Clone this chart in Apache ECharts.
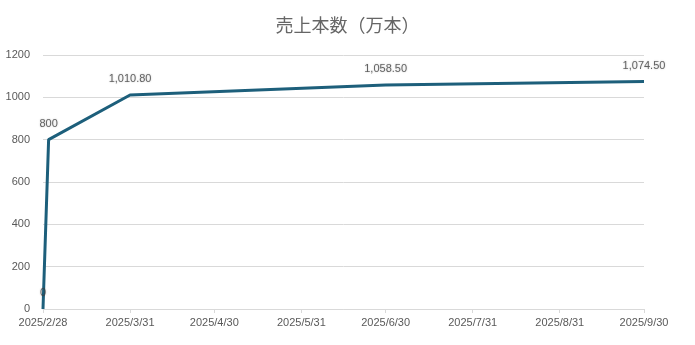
<!DOCTYPE html>
<html><head><meta charset="utf-8">
<script src="https://cdn.jsdelivr.net/npm/echarts@6/dist/echarts.min.js"></script>
<style>html,body{margin:0;padding:0;background:#fff}#c{width:695px;height:345px}</style>
</head><body><div id="c"></div>
<script>
const titleText = '売上本数（万本）';
const dates = ['2025-02-28', '2025-03-02', '2025-03-31', '2025-06-30', '2025-09-30'];
const values = [0, 800, 1010.8, 1058.5, 1074.5];
const xTickDates = ['2025-02-28','2025-03-31','2025-04-30','2025-05-31','2025-06-30','2025-07-31','2025-08-31','2025-09-30'];
const yTicks = [0, 200, 400, 600, 800, 1000, 1200];

const DAY = 86400000;
const ts = d => { const [y,m,dd] = d.split('-').map(Number); return Date.UTC(y, m-1, dd) / DAY; };
const xTicks = xTickDates.map(ts);
const fmt = v => v === 0 ? '0' : (Number.isInteger(v) && v < 1000 ? String(v) : v.toLocaleString('en-US',{minimumFractionDigits:2,maximumFractionDigits:2}));
const fmtDate = v => { const d = new Date(Math.round(v) * DAY); return d.getUTCFullYear()+'/'+(d.getUTCMonth()+1)+'/'+d.getUTCDate(); };
const pts = dates.map((d,i)=>[ts(d),values[i]]);

const chart = echarts.init(document.getElementById('c'), null, {renderer:'canvas'});
chart.setOption({
  animation:false,
  title:{text:titleText,left:'center',top:11,textStyle:{fontSize:18,fontWeight:'normal',color:'#666666',fontFamily:'Noto Sans CJK JP'}},
  grid:{left:43,right:51,top:55,bottom:36,containLabel:false},
  xAxis:{type:'value',min:xTicks[0],max:xTicks[xTicks.length-1],
    axisLine:{show:true,lineStyle:{color:'#d9d9d9'}},
    axisTick:{show:true,length:4,lineStyle:{color:'#d9d9d9'},customValues:xTicks},
    splitLine:{show:false},
    axisLabel:{customValues:xTicks,color:'#595959',fontSize:11,fontFamily:'Liberation Sans',margin:8,
      showMinLabel:true,showMaxLabel:true,formatter:fmtDate}},
  yAxis:{type:'value',min:yTicks[0],max:yTicks[yTicks.length-1],interval:200,
    axisLine:{show:false},axisTick:{show:false},
    splitLine:{lineStyle:{color:'#d9d9d9'}},
    axisLabel:{color:'#595959',fontSize:11,fontFamily:'Liberation Sans',margin:13,formatter:v=>String(v)}},
  series:[
    {type:'line',data:pts,symbol:'none',lineStyle:{color:'#1d5f7b',width:3},z:2},
    {type:'scatter',data:pts,symbolSize:1,itemStyle:{color:'rgba(0,0,0,0)'},z:3,
      label:{show:true,position:'top',distance:10,color:'#404040',fontSize:11,fontFamily:'Liberation Sans',
        textShadowColor:'rgba(0,0,0,0.3)',textShadowBlur:2,
        formatter:p=>fmt(p.value[1])}}
  ]
});
</script></body></html>
